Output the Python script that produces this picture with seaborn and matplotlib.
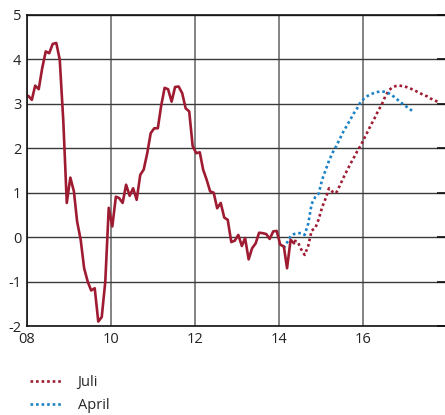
import numpy as np
import pandas as pd
import seaborn as sns
import matplotlib.pyplot as plt
import matplotlib.dates as mdates

# monthly outcome, Jan 2008 onwards
utfall = [3.18, 3.09, 3.41, 3.33, 3.80, 4.18, 4.14, 4.35, 4.37, 3.99,
          2.60, 0.77, 1.34, 1.03, 0.35, -0.06, -0.70, -1.00, -1.20, -1.15,
          -1.90, -1.80, -1.00, 0.66, 0.24, 0.91, 0.88, 0.77, 1.18, 0.93,
          1.10, 0.84, 1.40, 1.52, 1.89, 2.34, 2.45, 2.45, 2.94, 3.36,
          3.33, 3.05, 3.38, 3.39, 3.24, 2.90, 2.83, 2.05, 1.89, 1.91,
          1.52, 1.29, 1.03, 1.00, 0.65, 0.77, 0.44, 0.39, -0.11, -0.08,
          0.05, -0.20, -0.02, -0.50, -0.25, -0.14, 0.10, 0.09, 0.07, -0.04,
          0.13, 0.14, -0.17, -0.21, -0.70, -0.06, -0.14]

# forecast July, starts at month 76
juli_start = 76
juli = [-0.08, -0.10, -0.27, -0.40, -0.20, 0.15, 0.20, 0.40, 0.68, 0.88,
        1.10, 1.02, 0.99, 1.15, 1.32, 1.48, 1.64, 1.78, 1.93, 2.06,
        2.22, 2.38, 2.53, 2.68, 2.84, 2.98, 3.16, 3.30, 3.37, 3.40,
        3.41, 3.40, 3.38, 3.35, 3.32, 3.28, 3.24, 3.20, 3.17, 3.12,
        3.08, 3.05]

# forecast April, starts at month 73
april_start = 73
april = [-0.25, -0.12, 0.02, 0.07, 0.09, 0.09, 0.05, 0.30, 0.75, 0.90,
         0.98, 1.30, 1.52, 1.72, 1.90, 2.04, 2.20, 2.36, 2.50, 2.64,
         2.78, 2.90, 3.04, 3.12, 3.18, 3.22, 3.25, 3.27, 3.28, 3.27,
         3.24, 3.19, 3.13, 3.06, 3.00, 2.94, 2.88, 2.83]

yticks = [-2, -1, 0, 1, 2, 3, 4, 5]
xtick_years = [2008, 2010, 2012, 2014, 2016]

red = '#9e1b32'
blue = '#1b82c5'


def months(start, n):
    return pd.date_range('2008-01-01', periods=start + n, freq='MS')[start:] + pd.Timedelta(days=11)


df_u = pd.DataFrame({'date': months(0, len(utfall)), 'val': utfall})
df_j = pd.DataFrame({'date': months(juli_start, len(juli)), 'val': juli})
df_a = pd.DataFrame({'date': months(april_start, len(april)), 'val': april})

sns.set_style('white')
plt.rcParams['font.family'] = ['Open Sans', 'DejaVu Sans']
plt.rcParams['axes.unicode_minus'] = False

fig = plt.figure(figsize=(4.45, 4.15), dpi=100)
ax = fig.add_axes([27 / 445, 1 - 326 / 415, 1 - 27 / 445, (326 - 15) / 415])

dots = (0, (1.0, 1.1))
sns.lineplot(data=df_j, x='date', y='val', ax=ax, color=red, lw=1.9,
             linestyle=dots, label='Juli')
sns.lineplot(data=df_a, x='date', y='val', ax=ax, color=blue, lw=1.9,
             linestyle=dots, label='April')
sns.lineplot(data=df_u, x='date', y='val', ax=ax, color=red, lw=1.9,
             label='_nolegend_')

ax.set_xlim(pd.Timestamp('2008-01-01'), pd.Timestamp('2017-12-15'))
ax.set_ylim(-2, 5)
ax.set_yticks(yticks)
ax.set_yticklabels([str(v) for v in yticks])
ax.set_xticks([pd.Timestamp(f'{y}-01-01') for y in xtick_years])
ax.xaxis.set_major_formatter(mdates.DateFormatter('%y'))
ax.set_xlabel('')
ax.set_ylabel('')

ax.grid(True, axis='y', color='#3a3a3a', lw=1.0)
ax.grid(True, axis='x', color='#6e6e6e', lw=1.2)
ax.set_axisbelow(True)
for s in ['left', 'bottom', 'top']:
    ax.spines[s].set_color('#111111')
    ax.spines[s].set_linewidth(1.2)
ax.spines['right'].set_visible(False)
ax.tick_params(axis='both', length=0, labelsize=10.5, colors='#222222', pad=4)
ax.tick_params(axis='y', right=True, length=6, width=1.2, direction='in', color='#111111',
               labelright=False)

ax.get_legend().remove()
h, l = ax.get_legend_handles_labels()
fig.legend(h, l, loc='upper left', bbox_to_anchor=(0.05, 0.113), frameon=False,
           fontsize=10.5, handlelength=2.3, handletextpad=1.0, labelspacing=0.55,
           borderpad=0)

fig.savefig('out.png', dpi=100)
